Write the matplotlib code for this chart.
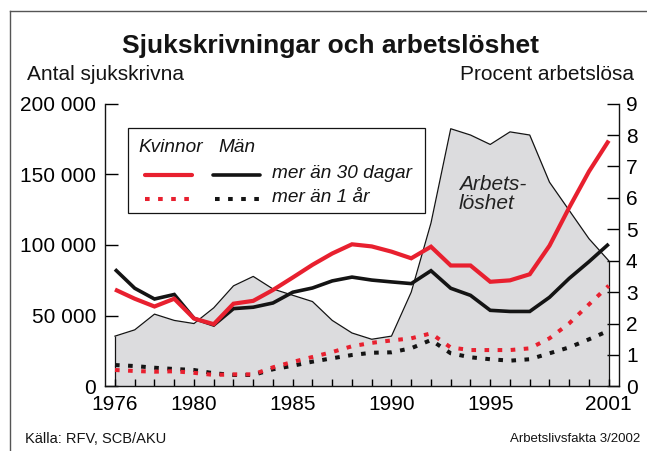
import matplotlib
matplotlib.use("Agg")
import matplotlib.pyplot as plt
from matplotlib.lines import Line2D
from matplotlib.patches import Rectangle, Polygon

plt.rcParams['font.family'] = ['Liberation Sans', 'DejaVu Sans']

years = list(range(1976, 2002))
unemployment = [1.6, 1.8, 2.3, 2.1, 2.0, 2.5, 3.2, 3.5, 3.1, 2.9, 2.7, 2.1, 1.7,
                1.5, 1.6, 3.0, 5.2, 8.2, 8.0, 7.7, 8.1, 8.0, 6.5, 5.6, 4.7, 4.0]
women_30d = [68500, 62000, 56500, 62000, 48000, 44000, 58500, 60500, 68200, 77000,
             86000, 94000, 100500, 99000, 95300, 90600, 98800, 85500, 85500, 74000,
             75000, 79300, 99500, 126500, 152000, 173800]
men_30d = [82800, 69400, 61800, 65000, 48100, 43400, 55000, 56000, 59000, 66600,
           69600, 74600, 77300, 75200, 73900, 72700, 81800, 69400, 64400, 53800,
           53000, 53000, 63000, 76400, 88200, 100700]
women_1y = [11600, 10900, 10400, 10700, 9600, 8100, 8500, 8500, 13500, 17300,
            20800, 24300, 28400, 30800, 32500, 34000, 37500, 27500, 25700, 25700,
            25700, 26900, 34000, 44600, 58000, 71200]
men_1y = [15100, 14400, 13200, 12300, 11600, 9300, 8100, 8100, 12100, 14600,
          17500, 19900, 22200, 23800, 24100, 27000, 32800, 23400, 20600, 19200,
          18200, 19200, 23400, 27600, 33300, 39400]

left_ticks = [0, 50000, 100000, 150000, 200000]
left_ticklabels = ["0", "50 000", "100 000", "150 000", "200 000"]
right_ticks = list(range(0, 10))
labelled_years = [1976, 1980, 1985, 1990, 1995, 2001]

title = "Sjukskrivningar och arbetslöshet"
left_label = "Antal sjukskrivna"
right_label = "Procent arbetslösa"
source = "Källa: RFV, SCB/AKU"
publisher = "Arbetslivsfakta 3/2002"
area_label = "Arbets-\nlöshet"

RED = '#e8202f'
BLACK = '#141414'
GREY = '#dcdcde'

W, H = 647, 451
fig = plt.figure(figsize=(W / 100, H / 100), dpi=100)

def fx(px):
    return px / W

def fy(py):
    return 1 - py / H

ax = fig.add_axes([fx(105), fy(386.4), (619 - 105) / W, (386.4 - 103.6) / H])
ax2 = ax.twinx()
ax.set_zorder(ax2.get_zorder() + 1)
ax.patch.set_visible(False)

# unemployment area on right axis
ax2.fill_between(years, 0, unemployment, color=GREY, lw=0, zorder=1)
ax2.plot(years, unemployment, color=BLACK, lw=0.9, zorder=2)
ax2.vlines([years[0], years[-1]], 0, [unemployment[0], unemployment[-1]],
           color=BLACK, lw=0.9, zorder=2)

dot = (0, (1.15, 2.1))
ax.plot(years, men_1y, color=BLACK, lw=2.9, linestyle=dot, dash_capstyle='butt')
ax.plot(years, women_1y, color=RED, lw=2.9, linestyle=dot, dash_capstyle='butt')
ax.plot(years, men_30d, color=BLACK, lw=2.6, solid_capstyle='butt', solid_joinstyle='miter')
ax.plot(years, women_30d, color=RED, lw=3.0, solid_capstyle='butt', solid_joinstyle='miter')

ax.set_xlim(1975.494, 2001.52)
ax.set_ylim(0, 200000)
ax2.set_ylim(0, 9)

for a in (ax, ax2):
    a.spines['top'].set_visible(False)
    for s in a.spines.values():
        s.set_linewidth(1.0)
        s.set_color(BLACK)
ax2.spines['left'].set_visible(False)
ax2.spines['bottom'].set_visible(False)
ax.spines['right'].set_visible(False)

ax.set_yticks(left_ticks)
ax.set_yticklabels(left_ticklabels)
ax2.set_yticks(right_ticks)
ax2.set_yticklabels([str(v) for v in right_ticks])
ax.set_xticks(years)
ax.set_xticklabels([str(y) if y in labelled_years else "" for y in years])

ax.tick_params(axis='y', direction='in', length=9.5, width=1.0, pad=6.5,
               labelsize=15, left=True, right=False)
ax2.tick_params(axis='y', direction='in', length=9, width=1.0, pad=5,
                labelsize=15)
ax.tick_params(axis='x', direction='in', length=5.2, width=1.0, pad=6.5,
               labelsize=15, top=False)

# texts
fig.text(fx(331), fy(46), title, ha='center', va='center', fontsize=19,
         fontweight='bold', color=BLACK)
fig.text(fx(27), fy(75), left_label, ha='left', va='center', fontsize=15, color=BLACK)
fig.text(fx(634), fy(75), right_label, ha='right', va='center', fontsize=15, color=BLACK)
fig.text(fx(25), fy(439), source, ha='left', va='center', fontsize=10.5, color=BLACK)
fig.text(fx(640), fy(439), publisher, ha='right', va='center', fontsize=9.5, color=BLACK)
fig.text(fx(459), fy(194), area_label, ha='left', va='center', fontsize=15,
         style='italic', color='#222222', linespacing=0.95)

# legend box
fig.patches.append(Rectangle((fx(128), fy(213)), (425 - 128) / W, (213 - 128) / H,
                             transform=fig.transFigure, facecolor='white',
                             edgecolor=BLACK, lw=0.9, zorder=5))
fig.text(fx(138), fy(148), "Kvinnor", ha='left', va='center', fontsize=13.7,
         style='italic', color=BLACK, zorder=6)
fig.text(fx(218), fy(148), "Män", ha='left', va='center', fontsize=13.7,
         style='italic', color=BLACK, zorder=6)
fig.text(fx(272), fy(174), "mer än 30 dagar", ha='left', va='center', fontsize=13.7,
         style='italic', color=BLACK, zorder=6)
fig.text(fx(272), fy(198), "mer än 1 år", ha='left', va='center', fontsize=13.7,
         style='italic', color=BLACK, zorder=6)
fig.lines.append(Line2D([fx(145), fx(192)], [fy(175), fy(175)], transform=fig.transFigure,
                        color=RED, lw=3.0, solid_capstyle='round', zorder=6))
fig.lines.append(Line2D([fx(213), fx(260)], [fy(175), fy(175)], transform=fig.transFigure,
                        color=BLACK, lw=2.6, solid_capstyle='round', zorder=6))
fig.lines.append(Line2D([fx(145), fx(192)], [fy(199), fy(199)], transform=fig.transFigure,
                        color=RED, lw=2.9, linestyle=dot, dash_capstyle='butt', zorder=6))
fig.lines.append(Line2D([fx(215), fx(262)], [fy(199), fy(199)], transform=fig.transFigure,
                        color=BLACK, lw=2.9, linestyle=dot, dash_capstyle='butt', zorder=6))

# outer frame lines (top and left)
fig.lines.append(Line2D([fx(10), 1], [fy(11), fy(11)], transform=fig.transFigure,
                        color='#555555', lw=1.0))
fig.lines.append(Line2D([fx(10), fx(10)], [fy(11), 0], transform=fig.transFigure,
                        color='#555555', lw=1.0))

fig.savefig("out.png", dpi=100)
